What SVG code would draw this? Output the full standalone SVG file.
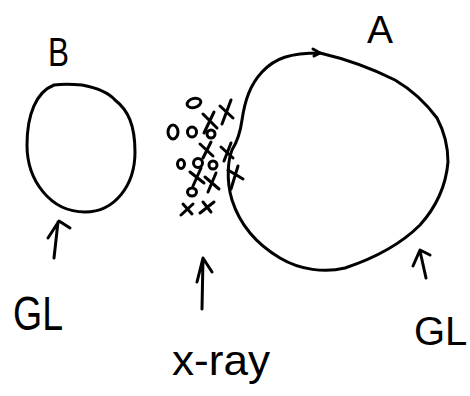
<svg xmlns="http://www.w3.org/2000/svg" width="470" height="396" viewBox="0 0 470 396">
<style>
.ink{fill:none;stroke:#000;stroke-width:3;stroke-linecap:round;stroke-linejoin:round}
.lbl{font-family:"Liberation Sans",Arial,sans-serif;fill:#000}
</style>
<rect width="470" height="396" fill="#fff"/>
<g id="nodeB">
<path class="ink" d="M54 85 C36 92 27 115 27 145 C27 180 50 212 85 212 C115 212 135 185 135 152 C135 125 128 110 115 100 C108 92 98 88 82 85 C70 84 62 84 54 85 Z"/>
<text class="lbl" x="48" y="66" font-size="40" textLength="21" lengthAdjust="spacingAndGlyphs">B</text>
</g>
<g id="nodeA">
<path class="ink" d="M320 53 C350 60 375 70 395 80 C412 90 425 102 437 118 C446 135 448 150 448 162 C446 185 438 205 420 225 C400 245 375 258 345 268 C325 273 300 270 280 258 C258 245 240 225 232 200 C226 180 228 160 232 150 C237 142 240 135 242 120 C245 100 250 85 262 72 C275 58 290 53 320 53"/>
<path class="ink" d="M313 49 L320 53 L314 56"/>
<text class="lbl" x="367" y="43" font-size="38" textLength="26" lengthAdjust="spacingAndGlyphs">A</text>
</g>
<g id="xray-cluster" class="ink">
<ellipse cx="194" cy="103" rx="7" ry="4.5" transform="rotate(-15 194 103)"/>
<ellipse cx="173" cy="132" rx="5" ry="7"/>
<ellipse cx="192" cy="132" rx="4.5" ry="5"/>
<ellipse cx="211" cy="134" rx="4" ry="4"/>
<ellipse cx="181" cy="164" rx="3.5" ry="4.5"/>
<ellipse cx="198" cy="163" rx="4.5" ry="4.5"/>
<ellipse cx="213" cy="165" rx="4" ry="4"/>
<ellipse cx="192" cy="192" rx="4.5" ry="4"/>
<path d="M203 114 L217 128 M214 112 L204 133"/>
<path d="M220 106 L233 118 M231 100 L222 124"/>
<path d="M200 144 L213 156 M211 142 L203 158"/>
<path d="M221 147 L233 158 M231 143 L224 161"/>
<path d="M190 172 L204 183 M201 168 L193 186"/>
<path d="M205 177 L219 189 M216 173 L208 192"/>
<path d="M228 170 L243 179 M238 166 L231 189"/>
<path d="M181 215 L193 204 M183 204 L192 214"/>
<path d="M200 213 L214 202 M203 202 L211 212"/>
</g>
<g id="connectors" class="ink">
<path d="M54 258 L58 222 M48 238 L59 221 L70 228"/>
<path d="M202 309 L203 258 M197 282 L203 258 L212 272"/>
<path d="M426 278 L420 251 M413 266 L420 250 L430 255"/>
</g>
<g id="labels">
<text class="lbl" x="13" y="330" font-size="48" textLength="50" lengthAdjust="spacingAndGlyphs">GL</text>
<text class="lbl" x="414" y="345" font-size="40">GL</text>
<text class="lbl" x="172" y="375" font-size="42" textLength="98" lengthAdjust="spacingAndGlyphs">x-ray</text>
</g>
</svg>
